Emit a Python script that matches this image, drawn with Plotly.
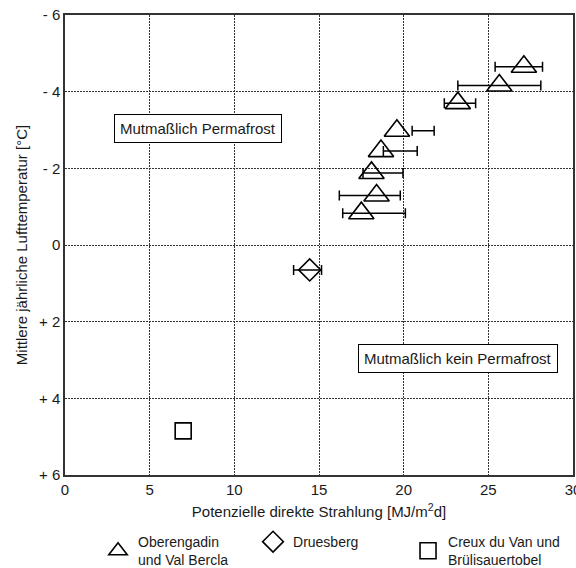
import plotly.graph_objects as go

# Oberengadin und Val Bercla
tri_x = [27.1, 25.65, 23.2, 19.6, 18.66, 18.1, 18.4, 17.5]
tri_y = [-4.65, -4.16, -3.7, -2.98, -2.45, -1.88, -1.29, -0.83]
tri_err_lo = [25.4, 23.2, 22.4, 20.5, 18.8, 17.6, 16.2, 16.4]
tri_err_hi = [28.2, 28.1, 24.25, 21.8, 20.8, 19.96, 19.8, 20.1]

# Druesberg
dia_x = [14.45]
dia_y = [0.65]
dia_err_lo = [13.5]
dia_err_hi = [15.15]

# Creux du Van und Brülisauertobel
sq_x = [6.98]
sq_y = [4.85]

x_ticks = [0, 5, 10, 15, 20, 25, 30]
y_ticks = [-6, -4, -2, 0, 2, 4, 6]
y_ticklabels = ["- 6", "- 4", "- 2", "0", "+ 2", "+ 4", "+ 6"]

FONT = "Liberation Sans, Arial, sans-serif"
TXT = "#1a1a1a"

fig = go.Figure()

def err_trace(lo, hi, y):
    mid = [(a + b) / 2 for a, b in zip(lo, hi)]
    half = [(b - a) / 2 for a, b in zip(lo, hi)]
    return go.Scatter(
        x=mid, y=y, mode="markers",
        marker=dict(size=1, color="rgba(0,0,0,0)"),
        error_x=dict(type="data", array=half, symmetric=True,
                     color="black", thickness=1.5, width=5),
        showlegend=False, hoverinfo="skip",
    )

fig.add_trace(err_trace(tri_err_lo, tri_err_hi, tri_y))
fig.add_trace(err_trace(dia_err_lo, dia_err_hi, dia_y))

fig.add_trace(go.Scatter(
    x=tri_x, y=tri_y, mode="markers", name="Oberengadin<br>und Val Bercla",
    marker=dict(symbol="triangle-up-open", size=22, color="black",
                line=dict(width=1.6, color="black")),
))
fig.add_trace(go.Scatter(
    x=dia_x, y=dia_y, mode="markers", name="Druesberg",
    marker=dict(symbol="diamond-open", size=17, color="black",
                line=dict(width=1.6, color="black")),
))
fig.add_trace(go.Scatter(
    x=sq_x, y=sq_y, mode="markers", name="Creux du Van und<br>Brülisauertobel",
    marker=dict(symbol="square-open", size=16, color="black",
                line=dict(width=1.6, color="black")),
))

fig.add_annotation(x=7.86, y=-3.03, xref="x", yref="y", text="Mutmaßlich Permafrost",
                   showarrow=False, bgcolor="white", bordercolor="black", borderwidth=1,
                   borderpad=5, font=dict(size=15, color=TXT, family=FONT))
fig.add_annotation(x=23.2, y=2.97, xref="x", yref="y", text="Mutmaßlich kein Permafrost",
                   showarrow=False, bgcolor="white", bordercolor="black", borderwidth=1,
                   borderpad=5, font=dict(size=15, color=TXT, family=FONT))

grid = dict(showgrid=True, gridcolor="#333", griddash="2px,1px", gridwidth=1)

fig.update_xaxes(
    range=[0, 30], tickvals=x_ticks, ticks="", **grid,
    showline=True, linecolor="#333", linewidth=1.5, mirror=True,
    zeroline=False, tickfont=dict(size=15, color=TXT, family=FONT),
    ticklabeloverflow="allow",
    title=dict(text="Potenzielle direkte Strahlung [MJ/m<sup>2</sup>d]",
               font=dict(size=15, color=TXT, family=FONT), standoff=10),
)
fig.update_yaxes(
    range=[6, -6], tickvals=y_ticks, ticktext=y_ticklabels, ticks="", **grid,
    showline=True, linecolor="#333", linewidth=1.5, mirror=True,
    zeroline=False, tickfont=dict(size=15, color=TXT, family=FONT),
    ticklabeloverflow="allow",
    title=dict(text="Mittlere jährliche Lufttemperatur [°C]",
               font=dict(size=15, color=TXT, family=FONT), standoff=8),
)

fig.update_layout(
    width=576, height=568,
    margin=dict(l=65, r=3, t=15, b=93, autoexpand=False),
    plot_bgcolor="white", paper_bgcolor="white",
    font=dict(family=FONT, size=14, color=TXT),
    showlegend=True,
    legend=dict(orientation="h", x=0.065, xanchor="left", y=-0.111, yanchor="top",
                font=dict(size=14, color=TXT, family=FONT),
                entrywidth=110, entrywidthmode="pixels", itemclick=False,
                bgcolor="rgba(0,0,0,0)", traceorder="normal"),
)

fig.write_html("out.html")
